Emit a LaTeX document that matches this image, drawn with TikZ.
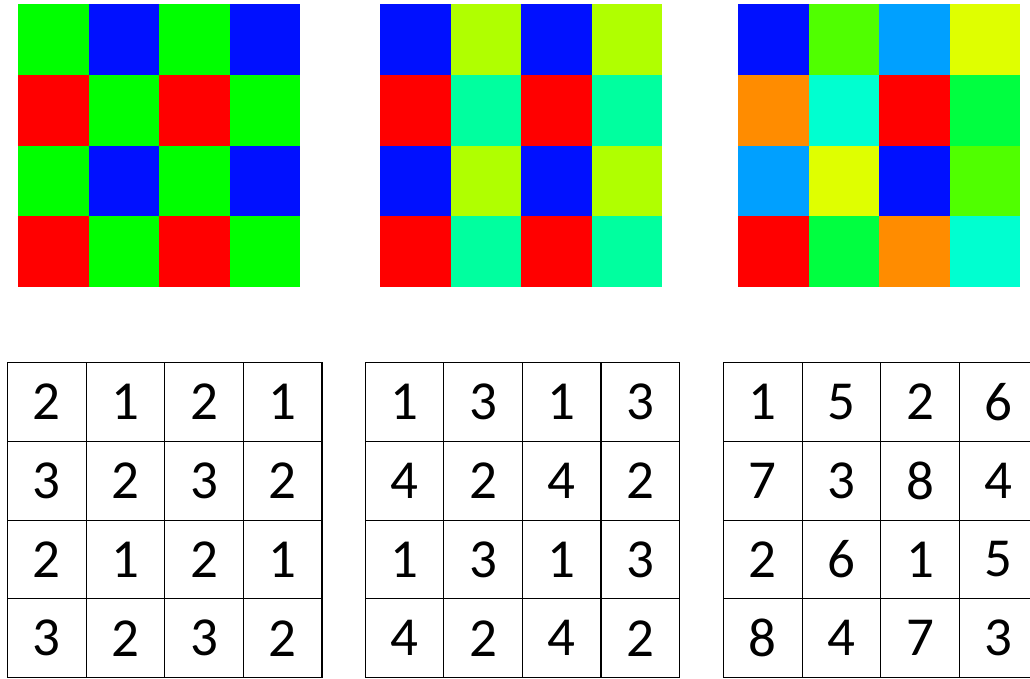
\documentclass[tikz,border=0pt]{standalone}
\usepackage{fontspec}
\setmainfont{Carlito}
\usetikzlibrary{positioning}

\definecolor{pgreen}{HTML}{00FF00}
\definecolor{pblue}{HTML}{0010FF}
\definecolor{pred}{HTML}{FF0000}
\definecolor{plime}{HTML}{B0FF00}
\definecolor{paqua}{HTML}{00FF9F}
\definecolor{pchart}{HTML}{50FF00}
\definecolor{pazure}{HTML}{00A0FF}
\definecolor{pyellow}{HTML}{DFFF00}
\definecolor{porange}{HTML}{FF8C00}
\definecolor{pcyan}{HTML}{00FFD0}
\definecolor{pspring}{HTML}{00FF40}

\begin{document}
\begin{tikzpicture}[x=1pt,y=-1pt,
    pix/.style={inner sep=0pt, minimum width=70.6pt, minimum height=70.8pt, anchor=north west},
    num/.style={draw, line width=1.2pt, inner sep=0pt, minimum width=78.6pt, minimum height=78.75pt,
                anchor=north west, font=\fontsize{55}{60}\selectfont}]
    \useasboundingbox (0,0) rectangle (1030,678);
    \clip (0,0) rectangle (1030,678);

    % colour patterns
    \foreach \row [count=\r] in {{pgreen,pblue,pgreen,pblue},{pred,pgreen,pred,pgreen},
                                 {pgreen,pblue,pgreen,pblue},{pred,pgreen,pred,pgreen}}
        \foreach \col [count=\c] in \row
            \node[pix, fill=\col] (a\r\c) at ({18+(\c-1)*70.5},{4+(\r-1)*70.75}) {};
    \foreach \row [count=\r] in {{pblue,plime,pblue,plime},{pred,paqua,pred,paqua},
                                 {pblue,plime,pblue,plime},{pred,paqua,pred,paqua}}
        \foreach \col [count=\c] in \row
            \node[pix, fill=\col] (b\r\c) at ({380+(\c-1)*70.5},{4+(\r-1)*70.75}) {};
    \foreach \row [count=\r] in {{pblue,pchart,pazure,pyellow},{porange,pcyan,pred,pspring},
                                 {pazure,pyellow,pblue,pchart},{pred,pspring,porange,pcyan}}
        \foreach \col [count=\c] in \row
            \node[pix, fill=\col] (c\r\c) at ({738+(\c-1)*70.5},{4+(\r-1)*70.75}) {};

    % index tables
    \foreach \row [count=\r] in {{2,1,2,1},{3,2,3,2},{2,1,2,1},{3,2,3,2}}
        \foreach \n [count=\c] in \row
            \node[num] (ta\r\c) at ({7+(\c-1)*78.6},{362+(\r-1)*78.75}) {\n};
    \foreach \row [count=\r] in {{1,3,1,3},{4,2,4,2},{1,3,1,3},{4,2,4,2}}
        \foreach \n [count=\c] in \row
            \node[num] (tb\r\c) at ({364.5+(\c-1)*78.6},{362+(\r-1)*78.75}) {\n};
    \foreach \row [count=\r] in {{1,5,2,6},{7,3,8,4},{2,6,1,5},{8,4,7,3}}
        \foreach \n [count=\c] in \row
            \node[num] (tc\r\c) at ({723+(\c-1)*78.6},{362+(\r-1)*78.75}) {\n};
\end{tikzpicture}
\end{document}
